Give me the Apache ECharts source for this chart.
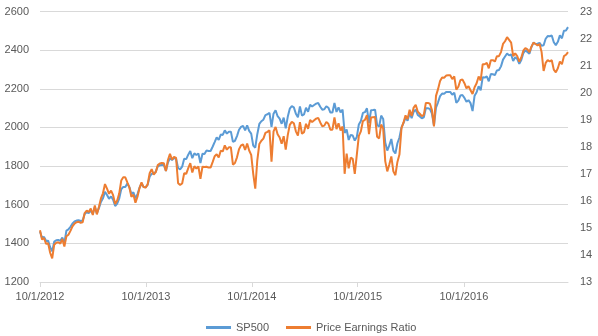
<!DOCTYPE html>
<html>
<head>
<meta charset="utf-8">
<script src="https://cdn.jsdelivr.net/npm/echarts@6/dist/echarts.min.js"></script>
<style>
html,body{margin:0;padding:0;background:#fff;}
#chart{width:598px;height:336px;}
</style>
</head>
<body>
<div id="chart"></div>
<script>
// Weekly observations, first week starts 10/1/2012, one value per week
var startDate = Date.UTC(2012, 9, 1);
var weekMs = 7 * 86400000;

var sp2012 = [1461,1428,1433,1412,1414,1380,1359,1409,1416,1418,1413,1430,1402];
var sp2013 = [1466,1472,1486,1503,1513,1518,1520,1516,1518,1552,1561,1556,1569,1553,1588,1555,1582,1614,1633,1667,1650,1631,1643,1626,1593,1606,1632,1680,1692,1692,1710,1691,1655,1664,1633,1655,1688,1710,1692,1690,1703,1745,1760,1762,1771,1798,1804,1806,1805,1775,1818,1841];
var sp2014 = [1831,1842,1838,1790,1783,1797,1838,1836,1859,1878,1841,1866,1857,1865,1816,1864,1863,1881,1878,1878,1900,1924,1949,1936,1963,1961,1985,1968,1978,1978,1925,1931,1955,1988,2003,2008,1985,2011,1982,1968,1906,1895,1965,2018,2032,2040,2064,2068,2075,2003,2071,2089];
var sp2015 = [2058,2045,2019,2051,1995,2055,2097,2110,2104,2071,2053,2108,2061,2067,2102,2081,2117,2108,2116,2123,2126,2107,2092,2094,2110,2102,2077,2077,2127,2080,2104,2078,2092,1971,1989,1935,1961,1958,1932,1951,2015,2033,2075,2079,2099,2023,2089,2090,2092,2012,2005,2061,2044];
var sp2016 = [1922,1880,1907,1940,1880,1865,1918,1948,2000,2022,2050,2035,2073,2048,2081,2092,2065,2057,2047,2052,2099,2099,2096,2071,2010,2103,2130,2162,2175,2174,2183,2184,2184,2169,2180,2128,2139,2165,2168,2153,2133,2141,2126,2085,2164,2182,2213,2192,2260,2258,2264,2239];
var sp2017 = [2277,2275,2271,2295,2297,2316,2351,2367,2383,2373,2378,2344,2363,2355,2329,2349,2384,2399,2391,2382,2416,2439,2432,2433,2438,2423,2425,2459,2473,2472,2476,2441,2426,2443,2477,2461,2500,2502,2519];

var pe2012 = [14.91,14.57,14.62,14.41,14.43,14.08,13.87,14.38,14.45,14.47,14.42,14.59,14.31];
var pe2013 = [14.69,14.75,14.89,15.06,15.16,15.21,15.23,15.19,15.21,15.55,15.64,15.59,15.72,15.48,15.83,15.5,15.77,16.09,16.28,16.62,16.45,16.26,16.38,16.21,15.88,16.01,16.27,16.75,16.87,16.87,16.68,16.5,16.15,16.23,15.93,16.15,16.47,16.68,16.51,16.49,16.61,17.02,17.17,16.97,17.06,17.32,17.38,17.4,17.39,17.1,17.51,17.74];
var pe2014 = [17.52,17.63,17.59,16.65,16.59,16.64,17.02,17.0,17.21,17.39,17.05,17.28,17.19,17.27,16.81,17.26,17.25,17.26,17.23,17.23,17.43,17.65,17.72,17.6,17.85,17.83,18.05,17.89,17.98,17.98,17.34,17.4,17.61,17.91,18.05,18.09,17.88,18.12,17.86,17.7,17.0,16.45,17.5,18.1,18.22,18.3,18.51,18.55,18.61,17.45,18.57,18.73];
var pe2015 = [18.46,18.34,18.11,18.39,17.89,18.43,18.81,18.92,18.87,18.57,18.41,18.91,18.48,18.54,18.85,18.66,18.99,18.91,18.98,19.04,19.07,18.9,18.76,18.78,18.92,18.85,18.63,18.63,19.08,18.65,18.87,18.6,18.75,17.0,17.75,17.2,17.6,17.55,17.0,17.7,18.4,18.57,18.95,18.99,19.17,18.47,19.08,19.09,19.1,18.37,18.31,18.82,18.67];
var pe2016 = [17.47,17.09,17.34,17.64,17.09,16.95,17.44,17.71,18.69,18.9,19.16,19.02,19.37,19.14,19.45,19.55,19.3,19.22,19.13,19.18,19.62,19.62,19.59,19.36,18.75,19.88,20.13,20.43,20.56,20.55,20.63,20.64,20.64,20.5,20.6,20.11,20.22,20.46,20.49,20.35,20.16,20.24,20.09,19.95,20.2,20.35,20.6,20.45,21.05,21.05,21.1,20.9];
var pe2017 = [21.2,21.2,21.15,21.35,21.35,21.5,21.8,21.9,22.05,21.95,21.85,21.35,21.45,21.35,21.15,21.3,21.55,21.65,21.6,21.5,21.7,21.85,21.8,21.75,21.8,21.5,20.8,21.1,21.2,21.15,21.2,20.85,20.75,20.9,21.15,21.05,21.35,21.4,21.5];

var spValues = [].concat(sp2012, sp2013, sp2014, sp2015, sp2016, sp2017);
var peValues = [].concat(pe2012, pe2013, pe2014, pe2015, pe2016, pe2017);

var tickDates = [Date.UTC(2012,9,1), Date.UTC(2013,9,1), Date.UTC(2014,9,1), Date.UTC(2015,9,1), Date.UTC(2016,9,1)];
var seriesNames = ['SP500', 'Price Earnings Ratio'];
var leftTicks = {min: 1200, max: 2600, interval: 200};
var rightTicks = {min: 13, max: 23, interval: 1};

function pairs(vals) {
  return vals.map(function (v, i) { return [startDate + i * weekMs, v]; });
}
function fmtDate(v) {
  var d = new Date(v);
  return (d.getUTCMonth() + 1) + '/' + d.getUTCDate() + '/' + d.getUTCFullYear();
}
function plain(v) { return String(v); }

var endDate = startDate + (spValues.length - 1) * weekMs;
var font = 'Liberation Sans';
var labelColor = '#595959';
var gridColor = '#D9D9D9';

var chart = echarts.init(document.getElementById('chart'), null, {renderer: 'canvas'});
chart.setOption({
  animation: false,
  textStyle: {fontFamily: font},
  grid: {left: 40, right: 30, top: 11.5, bottom: 54, containLabel: false},
  legend: {
    data: seriesNames,
    left: 201, top: 317,
    icon: 'rect', itemWidth: 25, itemHeight: 3, itemGap: 17,
    textStyle: {color: labelColor, fontSize: 11, fontFamily: font}
  },
  xAxis: {
    type: 'value',
    min: startDate, max: endDate,
    axisLine: {show: true, lineStyle: {color: gridColor, width: 1}},
    axisTick: {show: true, length: 5, customValues: tickDates, lineStyle: {color: gridColor}},
    axisLabel: {customValues: tickDates, formatter: fmtDate, color: labelColor, fontSize: 11, fontFamily: font, margin: 9},
    splitLine: {show: false}
  },
  yAxis: [
    {
      type: 'value', min: leftTicks.min, max: leftTicks.max, interval: leftTicks.interval,
      axisLine: {show: false}, axisTick: {show: false},
      splitLine: {show: true, lineStyle: {color: gridColor, width: 1}},
      axisLabel: {color: labelColor, fontSize: 11, fontFamily: font, margin: 11, formatter: plain}
    },
    {
      type: 'value', position: 'right', min: rightTicks.min, max: rightTicks.max, interval: rightTicks.interval,
      axisLine: {show: false}, axisTick: {show: false},
      splitLine: {show: false},
      axisLabel: {color: labelColor, fontSize: 11, fontFamily: font, margin: 12, formatter: plain}
    }
  ],
  series: [
    {
      name: seriesNames[0], type: 'line', yAxisIndex: 0, data: pairs(spValues),
      symbol: 'none', lineStyle: {color: '#5B9BD5', width: 2}, itemStyle: {color: '#5B9BD5'}
    },
    {
      name: seriesNames[1], type: 'line', yAxisIndex: 1, data: pairs(peValues),
      symbol: 'none', lineStyle: {color: '#ED7D31', width: 2}, itemStyle: {color: '#ED7D31'}
    }
  ]
});
</script>
</body>
</html>
